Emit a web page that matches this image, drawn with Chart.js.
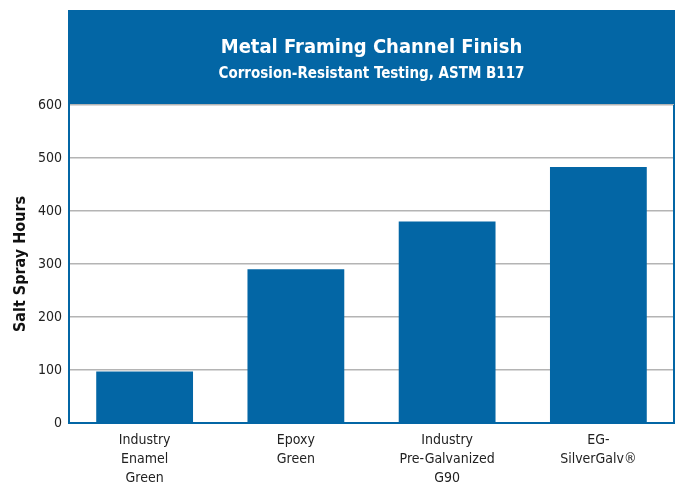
<!DOCTYPE html>
<html>
<head>
<meta charset="utf-8">
<script src="https://cdn.jsdelivr.net/npm/chart.js@4/dist/chart.umd.min.js"></script>
<style>
  html, body { margin: 0; padding: 0; background: #fff; }
  #wrap { width: 680px; height: 485px; }
</style>
</head>
<body>
<div id="wrap"><canvas id="chart"></canvas></div>
<script>
const categories = [
  ['Industry', 'Enamel', 'Green'],
  ['Epoxy', 'Green'],
  ['Industry', 'Pre-Galvanized', 'G90'],
  ['EG-', 'SilverGalv®']
];
const saltSprayHours = [97, 290, 380, 483];
const yMin = 0, yMax = 600, yStep = 100;

const BLUE = '#0366a5';
const FONT = "'Liberation Sans Narrow', 'DejaVu Sans Condensed', 'Liberation Sans', sans-serif";

// blue header box behind the titles + frame round the plot
const headerPlugin = {
  id: 'header',
  afterLayout(chart) {
    const { left, right } = chart.chartArea;
    chart.boxes.forEach(b => {
      if (b.position === 'top' && typeof b._drawArgs === 'function') {
        b.left = left; b.right = right; b.width = right - left;
      }
    });
  },
  beforeDraw(chart) {
    const { ctx, chartArea: { left, right, top } } = chart;
    ctx.save();
    ctx.fillStyle = BLUE;
    ctx.fillRect(left - 1, 10, right - left + 2, top - 10);
    ctx.restore();
  },
  afterDatasetsDraw(chart) {
    const { ctx, chartArea: { right, top, bottom } } = chart;
    ctx.save();
    ctx.strokeStyle = BLUE;
    ctx.lineWidth = 2;
    ctx.beginPath();
    ctx.moveTo(right, top);
    ctx.lineTo(right, bottom + 1);
    ctx.stroke();
    ctx.restore();
  }
};

new Chart(document.getElementById('chart'), {
  type: 'bar',
  data: {
    labels: categories,
    datasets: [{
      label: 'Salt Spray Hours',
      data: saltSprayHours,
      backgroundColor: BLUE,
      barPercentage: 0.64,
      categoryPercentage: 1.0
    }]
  },
  options: {
    responsive: true,
    maintainAspectRatio: false,
    animation: false,
    layout: { padding: { top: 10, right: 6, left: 0, bottom: 0 } },
    plugins: {
      legend: { display: false },
      tooltip: { enabled: false },
      title: {
        display: true,
        text: 'Metal Framing Channel Finish',
        color: '#fff',
        font: { family: FONT, size: 20, weight: 'bold', lineHeight: 1.2 },
        padding: { top: 26, bottom: 0 }
      },
      subtitle: {
        display: true,
        text: 'Corrosion-Resistant Testing, ASTM B117',
        color: '#fff',
        font: { family: FONT, size: 15, weight: 'bold', lineHeight: 1.2 },
        padding: { top: 5, bottom: 22 }
      }
    },
    scales: {
      x: {
        grid: { display: false, drawTicks: false },
        border: { color: BLUE, width: 2 },
        ticks: {
          color: '#222',
          font: { family: FONT, size: 14, lineHeight: 1.35 },
          padding: 8,
          maxRotation: 0,
          autoSkip: false
        },
        afterFit(scale) { scale.height = 62; }
      },
      y: {
        min: yMin,
        max: yMax,
        grid: { color: '#b4b4b4', lineWidth: 1.5, drawTicks: false },
        border: { color: BLUE, width: 2 },
        ticks: {
          stepSize: yStep,
          color: '#222',
          font: { family: FONT, size: 14 },
          padding: 7
        },
        title: {
          display: true,
          text: 'Salt Spray Hours',
          color: '#111',
          font: { family: FONT, size: 16, weight: 'bold', lineHeight: 1.2 },
          padding: { top: 11, bottom: 4 }
        },
        afterFit(scale) { scale.width = 69; }
      }
    }
  },
  plugins: [headerPlugin]
});
</script>
</body>
</html>
